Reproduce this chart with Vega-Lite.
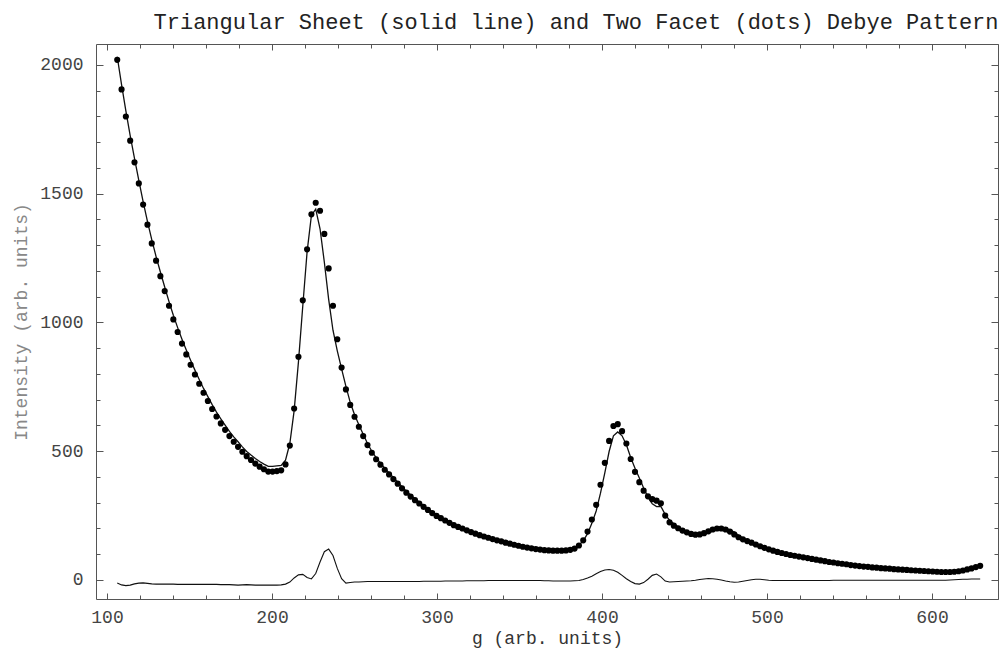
{
"$schema":"https://vega.github.io/schema/vega-lite/v6.json",
"width":902,"height":555,
"autosize":{"type":"none"},
"padding":{"left":96,"top":44,"right":2,"bottom":50},
"background":"white",
"config":{"view":{"stroke":"#555","strokeWidth":1},
"axis":{"domain":false,"grid":false,"tickColor":"#555","tickWidth":1,"labelFont":"Liberation Mono","labelFontSize":18,"labelColor":"#444","labelOverlap":false,"labelFlush":false,"titleFont":"Liberation Mono","titleFontSize":18,"titleFontWeight":"normal"}},
"title":{"text":"Triangular Sheet (solid line) and Two Facet (dots) Debye Pattern","anchor":"end","font":"Liberation Mono","fontSize":22,"fontWeight":"normal","color":"#222","offset":10},
"data":{"values":[
{"g":106.2,"dots":2020,"fit":2032,"diff":-12},
{"g":108.82,"dots":1905,"fit":1924,"diff":-19},
{"g":111.43,"dots":1800,"fit":1822,"diff":-22},
{"g":114.05,"dots":1706,"fit":1726,"diff":-20},
{"g":116.66,"dots":1622,"fit":1637,"diff":-15},
{"g":119.28,"dots":1540,"fit":1552,"diff":-12},
{"g":121.89,"dots":1458,"fit":1469,"diff":-11},
{"g":124.51,"dots":1380,"fit":1393,"diff":-13},
{"g":127.12,"dots":1307,"fit":1322,"diff":-15},
{"g":129.74,"dots":1240,"fit":1256,"diff":-16},
{"g":132.35,"dots":1180,"fit":1196,"diff":-16},
{"g":134.97,"dots":1122,"fit":1138,"diff":-16},
{"g":137.58,"dots":1065,"fit":1081,"diff":-16},
{"g":140.2,"dots":1012,"fit":1028,"diff":-16},
{"g":142.81,"dots":963,"fit":980,"diff":-17},
{"g":145.43,"dots":918,"fit":935,"diff":-17},
{"g":148.04,"dots":876,"fit":893,"diff":-17},
{"g":150.66,"dots":836,"fit":853,"diff":-17},
{"g":153.27,"dots":798,"fit":815,"diff":-17},
{"g":155.89,"dots":762,"fit":779,"diff":-17},
{"g":158.5,"dots":727,"fit":744,"diff":-17},
{"g":161.12,"dots":695,"fit":712,"diff":-17},
{"g":163.73,"dots":664,"fit":681,"diff":-17},
{"g":166.35,"dots":635,"fit":652,"diff":-17},
{"g":168.96,"dots":608,"fit":626,"diff":-18},
{"g":171.58,"dots":583,"fit":601,"diff":-18},
{"g":174.19,"dots":559,"fit":577,"diff":-18},
{"g":176.81,"dots":537,"fit":556,"diff":-19},
{"g":179.42,"dots":517,"fit":537,"diff":-20},
{"g":182.04,"dots":498,"fit":517,"diff":-19},
{"g":184.65,"dots":481,"fit":499,"diff":-18},
{"g":187.27,"dots":466,"fit":485,"diff":-19},
{"g":189.88,"dots":452,"fit":472,"diff":-20},
{"g":192.5,"dots":440,"fit":460,"diff":-20},
{"g":195.11,"dots":430,"fit":450,"diff":-20},
{"g":197.73,"dots":421,"fit":441,"diff":-20},
{"g":200.34,"dots":421,"fit":441,"diff":-20},
{"g":202.96,"dots":423,"fit":443,"diff":-20},
{"g":205.57,"dots":426,"fit":445,"diff":-19},
{"g":208.19,"dots":449,"fit":465,"diff":-16},
{"g":210.8,"dots":522,"fit":530,"diff":-8},
{"g":213.42,"dots":666,"fit":658,"diff":8},
{"g":216.03,"dots":867,"fit":847,"diff":20},
{"g":218.65,"dots":1086,"fit":1064,"diff":22},
{"g":221.26,"dots":1284,"fit":1274,"diff":10},
{"g":223.88,"dots":1420,"fit":1416,"diff":4},
{"g":226.49,"dots":1465,"fit":1440,"diff":25},
{"g":229.11,"dots":1434,"fit":1364,"diff":70},
{"g":231.72,"dots":1344,"fit":1234,"diff":110},
{"g":234.34,"dots":1210,"fit":1090,"diff":120},
{"g":236.95,"dots":1065,"fit":970,"diff":95},
{"g":239.57,"dots":935,"fit":890,"diff":45},
{"g":242.18,"dots":825,"fit":820,"diff":5},
{"g":244.8,"dots":740,"fit":752,"diff":-12},
{"g":247.41,"dots":680,"fit":690,"diff":-10},
{"g":250.03,"dots":634,"fit":642,"diff":-8},
{"g":252.64,"dots":595,"fit":603,"diff":-8},
{"g":255.26,"dots":559,"fit":566,"diff":-7},
{"g":257.87,"dots":524,"fit":530,"diff":-6},
{"g":260.49,"dots":494,"fit":500,"diff":-6},
{"g":263.1,"dots":469,"fit":475,"diff":-6},
{"g":265.72,"dots":448,"fit":454,"diff":-6},
{"g":268.33,"dots":428,"fit":434,"diff":-6},
{"g":270.95,"dots":410,"fit":416,"diff":-6},
{"g":273.56,"dots":392,"fit":398,"diff":-6},
{"g":276.18,"dots":374,"fit":380,"diff":-6},
{"g":278.79,"dots":356,"fit":362,"diff":-6},
{"g":281.41,"dots":339,"fit":345,"diff":-6},
{"g":284.02,"dots":324,"fit":330,"diff":-6},
{"g":286.64,"dots":310,"fit":316,"diff":-6},
{"g":289.25,"dots":297,"fit":303,"diff":-6},
{"g":291.87,"dots":284,"fit":289,"diff":-5},
{"g":294.48,"dots":272,"fit":277,"diff":-5},
{"g":297.1,"dots":260,"fit":265,"diff":-5},
{"g":299.71,"dots":249,"fit":254,"diff":-5},
{"g":302.33,"dots":240,"fit":245,"diff":-5},
{"g":304.94,"dots":231,"fit":235,"diff":-4},
{"g":307.56,"dots":222,"fit":226,"diff":-4},
{"g":310.17,"dots":213,"fit":217,"diff":-4},
{"g":312.79,"dots":206,"fit":210,"diff":-4},
{"g":315.4,"dots":200,"fit":204,"diff":-4},
{"g":318.02,"dots":193,"fit":196,"diff":-3},
{"g":320.63,"dots":186,"fit":189,"diff":-3},
{"g":323.25,"dots":180,"fit":183,"diff":-3},
{"g":325.86,"dots":174,"fit":177,"diff":-3},
{"g":328.48,"dots":169,"fit":172,"diff":-3},
{"g":331.09,"dots":164,"fit":166,"diff":-2},
{"g":333.71,"dots":159,"fit":161,"diff":-2},
{"g":336.32,"dots":154,"fit":156,"diff":-2},
{"g":338.94,"dots":150,"fit":152,"diff":-2},
{"g":341.55,"dots":145,"fit":147,"diff":-2},
{"g":344.17,"dots":141,"fit":143,"diff":-2},
{"g":346.78,"dots":137,"fit":139,"diff":-2},
{"g":349.4,"dots":133,"fit":135,"diff":-2},
{"g":352.01,"dots":129,"fit":131,"diff":-2},
{"g":354.63,"dots":126,"fit":128,"diff":-2},
{"g":357.24,"dots":123,"fit":125,"diff":-2},
{"g":359.86,"dots":120,"fit":122,"diff":-2},
{"g":362.47,"dots":118,"fit":120,"diff":-2},
{"g":365.09,"dots":116,"fit":119,"diff":-3},
{"g":367.7,"dots":115,"fit":118,"diff":-3},
{"g":370.32,"dots":114,"fit":118,"diff":-4},
{"g":372.93,"dots":114,"fit":118,"diff":-4},
{"g":375.55,"dots":114,"fit":118,"diff":-4},
{"g":378.16,"dots":115,"fit":119,"diff":-4},
{"g":380.78,"dots":117,"fit":121,"diff":-4},
{"g":383.39,"dots":122,"fit":125,"diff":-3},
{"g":386.01,"dots":134,"fit":136,"diff":-2},
{"g":388.62,"dots":154,"fit":152,"diff":2},
{"g":391.24,"dots":188,"fit":180,"diff":8},
{"g":393.85,"dots":235,"fit":220,"diff":15},
{"g":396.47,"dots":292,"fit":268,"diff":24},
{"g":399.08,"dots":370,"fit":337,"diff":33},
{"g":401.7,"dots":455,"fit":416,"diff":39},
{"g":404.31,"dots":540,"fit":499,"diff":41},
{"g":406.93,"dots":598,"fit":560,"diff":38},
{"g":409.54,"dots":605,"fit":575,"diff":30},
{"g":412.16,"dots":578,"fit":560,"diff":18},
{"g":414.77,"dots":530,"fit":525,"diff":5},
{"g":417.39,"dots":470,"fit":476,"diff":-6},
{"g":420.0,"dots":420,"fit":434,"diff":-14},
{"g":422.62,"dots":380,"fit":396,"diff":-16},
{"g":425.23,"dots":347,"fit":357,"diff":-10},
{"g":427.85,"dots":325,"fit":322,"diff":3},
{"g":430.46,"dots":314,"fit":296,"diff":18},
{"g":433.08,"dots":308,"fit":285,"diff":23},
{"g":435.69,"dots":298,"fit":286,"diff":12},
{"g":438.31,"dots":250,"fit":254,"diff":-4},
{"g":440.92,"dots":224,"fit":232,"diff":-8},
{"g":443.54,"dots":211,"fit":218,"diff":-7},
{"g":446.15,"dots":201,"fit":207,"diff":-6},
{"g":448.77,"dots":192,"fit":197,"diff":-5},
{"g":451.38,"dots":185,"fit":189,"diff":-4},
{"g":454.0,"dots":179,"fit":182,"diff":-3},
{"g":456.61,"dots":176,"fit":177,"diff":-1},
{"g":459.23,"dots":177,"fit":175,"diff":2},
{"g":461.84,"dots":182,"fit":178,"diff":4},
{"g":464.46,"dots":189,"fit":183,"diff":6},
{"g":467.07,"dots":196,"fit":191,"diff":5},
{"g":469.69,"dots":200,"fit":197,"diff":3},
{"g":472.3,"dots":200,"fit":200,"diff":0},
{"g":474.92,"dots":196,"fit":200,"diff":-4},
{"g":477.53,"dots":188,"fit":195,"diff":-7},
{"g":480.15,"dots":177,"fit":186,"diff":-9},
{"g":482.76,"dots":166,"fit":174,"diff":-8},
{"g":485.38,"dots":158,"fit":163,"diff":-5},
{"g":487.99,"dots":151,"fit":153,"diff":-2},
{"g":490.61,"dots":145,"fit":144,"diff":1},
{"g":493.22,"dots":138,"fit":135,"diff":3},
{"g":495.84,"dots":131,"fit":128,"diff":3},
{"g":498.45,"dots":125,"fit":124,"diff":1},
{"g":501.07,"dots":119,"fit":120,"diff":-1},
{"g":503.68,"dots":114,"fit":116,"diff":-2},
{"g":506.3,"dots":109,"fit":111,"diff":-2},
{"g":508.91,"dots":105,"fit":107,"diff":-2},
{"g":511.53,"dots":101,"fit":103,"diff":-2},
{"g":514.14,"dots":97,"fit":99,"diff":-2},
{"g":516.76,"dots":94,"fit":96,"diff":-2},
{"g":519.37,"dots":91,"fit":93,"diff":-2},
{"g":521.99,"dots":88,"fit":90,"diff":-2},
{"g":524.6,"dots":85,"fit":87,"diff":-2},
{"g":527.22,"dots":82,"fit":84,"diff":-2},
{"g":529.83,"dots":79,"fit":81,"diff":-2},
{"g":532.45,"dots":76,"fit":78,"diff":-2},
{"g":535.06,"dots":73,"fit":75,"diff":-2},
{"g":537.68,"dots":70,"fit":72,"diff":-2},
{"g":540.29,"dots":68,"fit":69,"diff":-1},
{"g":542.91,"dots":65,"fit":66,"diff":-1},
{"g":545.52,"dots":63,"fit":64,"diff":-1},
{"g":548.14,"dots":61,"fit":62,"diff":-1},
{"g":550.75,"dots":58,"fit":59,"diff":-1},
{"g":553.37,"dots":56,"fit":57,"diff":-1},
{"g":555.98,"dots":54,"fit":55,"diff":-1},
{"g":558.6,"dots":52,"fit":53,"diff":-1},
{"g":561.21,"dots":51,"fit":52,"diff":-1},
{"g":563.83,"dots":49,"fit":50,"diff":-1},
{"g":566.44,"dots":48,"fit":49,"diff":-1},
{"g":569.06,"dots":46,"fit":47,"diff":-1},
{"g":571.67,"dots":45,"fit":46,"diff":-1},
{"g":574.29,"dots":44,"fit":45,"diff":-1},
{"g":576.9,"dots":42,"fit":43,"diff":-1},
{"g":579.52,"dots":41,"fit":42,"diff":-1},
{"g":582.13,"dots":40,"fit":41,"diff":-1},
{"g":584.75,"dots":39,"fit":40,"diff":-1},
{"g":587.36,"dots":38,"fit":39,"diff":-1},
{"g":589.98,"dots":37,"fit":38,"diff":-1},
{"g":592.59,"dots":36,"fit":37,"diff":-1},
{"g":595.21,"dots":35,"fit":36,"diff":-1},
{"g":597.82,"dots":34,"fit":35,"diff":-1},
{"g":600.44,"dots":33,"fit":34,"diff":-1},
{"g":603.05,"dots":32,"fit":33,"diff":-1},
{"g":605.67,"dots":31,"fit":32,"diff":-1},
{"g":608.28,"dots":31,"fit":32,"diff":-1},
{"g":610.9,"dots":31,"fit":31,"diff":0},
{"g":613.51,"dots":32,"fit":31,"diff":1},
{"g":616.13,"dots":34,"fit":32,"diff":2},
{"g":618.74,"dots":37,"fit":34,"diff":3},
{"g":621.36,"dots":41,"fit":38,"diff":3},
{"g":623.97,"dots":45,"fit":41,"diff":4},
{"g":626.59,"dots":50,"fit":46,"diff":4},
{"g":629.2,"dots":55,"fit":51,"diff":4}
]},
"resolve":{"axis":{"x":"independent","y":"independent"}},
"layer":[
{"mark":{"type":"line","color":"#111","strokeWidth":1.3},
 "encoding":{
  "x":{"field":"g","type":"quantitative","scale":{"domain":[93.33,640],"nice":false,"zero":false},
   "axis":{"orient":"bottom","values":[100,120,140,160,180,200,220,240,260,280,300,320,340,360,380,400,420,440,460,480,500,520,540,560,580,600,620,640],
    "labelExpr":"datum.value % 100 === 0 ? datum.label : ''","format":"d",
    "tickSize":{"condition":{"test":"datum.value % 100 === 0","value":-6},"value":-4},
    "labelPadding":15,"title":"g (arb. units)","titleColor":"#333","titleX":451,"titleY":39,"titleBaseline":"middle","titleAlign":"center"}},
  "y":{"field":"fit","type":"quantitative","scale":{"domain":[-73.8,2081.5],"nice":false,"zero":false},
   "axis":{"orient":"left","values":[0,100,200,300,400,500,600,700,800,900,1000,1100,1200,1300,1400,1500,1600,1700,1800,1900,2000],
    "labelExpr":"datum.value % 500 === 0 ? datum.label : ''","format":"d",
    "tickSize":{"condition":{"test":"datum.value % 500 === 0","value":-7},"value":-4},
    "labelPadding":20,"title":"Intensity (arb. units)","titleColor":"#888","titleX":-75,"titleY":277.5,"titleAngle":-90,"titleBaseline":"middle","titleAlign":"center"}}}},
{"mark":{"type":"circle","color":"#000","size":38,"opacity":1},
 "encoding":{
  "x":{"field":"g","type":"quantitative","axis":null},
  "y":{"field":"dots","type":"quantitative","axis":null}}},
{"mark":{"type":"line","color":"#111","strokeWidth":1.1},
 "encoding":{
  "x":{"field":"g","type":"quantitative",
   "axis":{"orient":"top","values":[100,120,140,160,180,200,220,240,260,280,300,320,340,360,380,400,420,440,460,480,500,520,540,560,580,600,620,640],
    "labels":false,"title":null,
    "tickSize":{"condition":{"test":"datum.value % 100 === 0","value":-6},"value":-4}}},
  "y":{"field":"diff","type":"quantitative",
   "axis":{"orient":"right","values":[0,100,200,300,400,500,600,700,800,900,1000,1100,1200,1300,1400,1500,1600,1700,1800,1900,2000],
    "labels":false,"title":null,
    "tickSize":{"condition":{"test":"datum.value % 500 === 0","value":-7},"value":-4}}}}}
]
}
